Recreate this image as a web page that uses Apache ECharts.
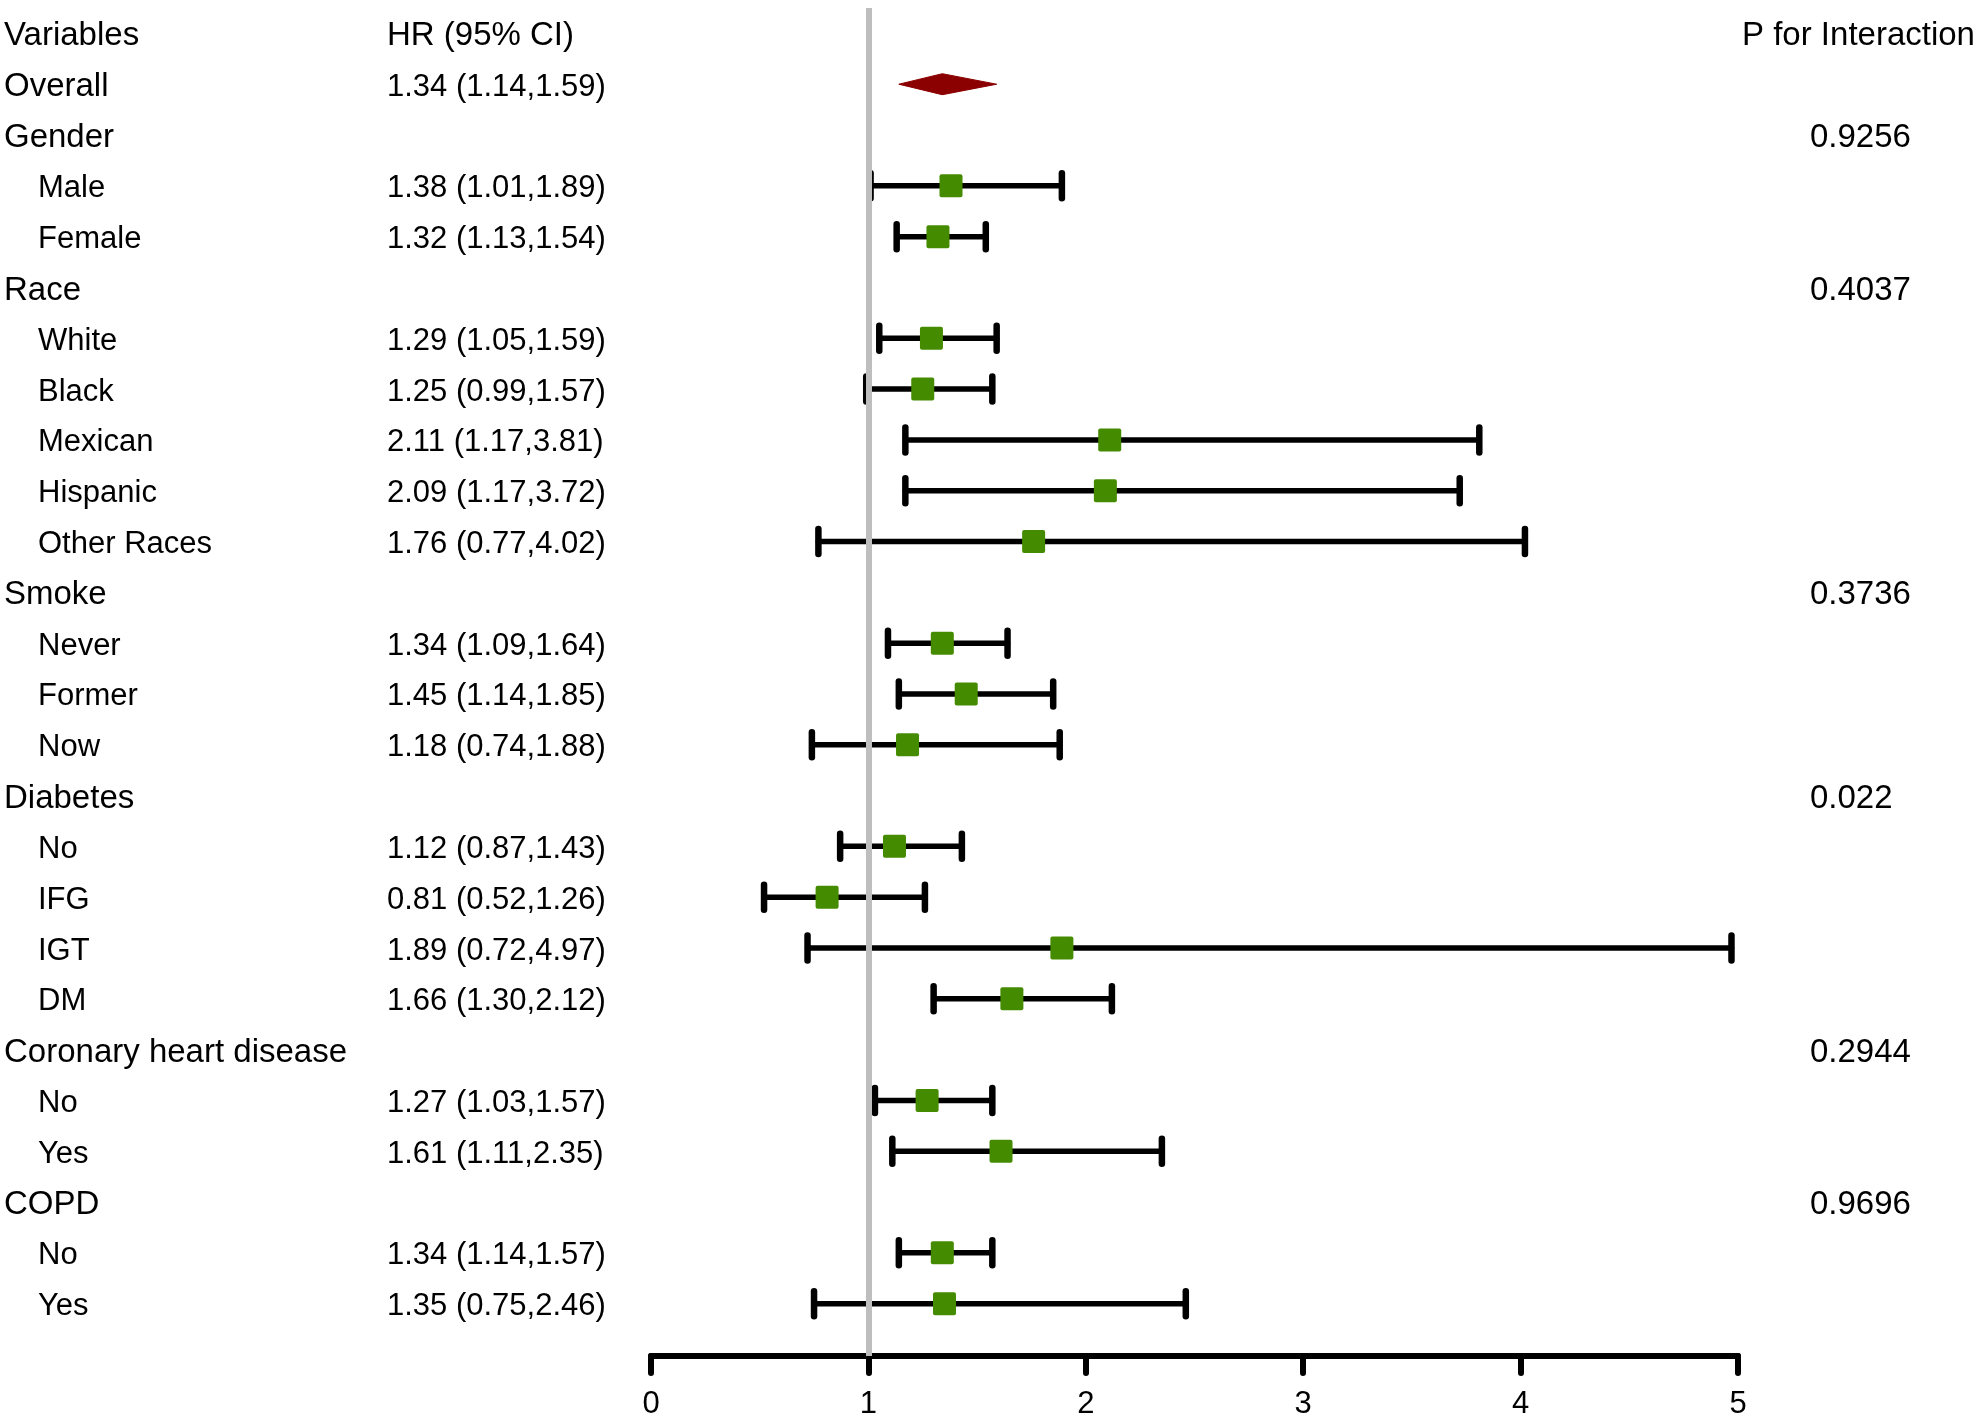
<!DOCTYPE html>
<html>
<head>
<meta charset="utf-8">
<title>Subgroup forest plot</title>
<script src="https://cdn.jsdelivr.net/npm/echarts@6.0.0/dist/echarts.min.js"></script>
<style>
  html, body { margin: 0; padding: 0; background: #fff; overflow: hidden; }
  #chart { width: 1977px; height: 1420px; }
</style>
</head>
<body>
<div id="chart"></div>
<script>
// 表头
const headers = ['Variables', 'HR (95% CI)', 'P for Interaction'];

// 每行的变量名，subgroup 行缩进
const labels = ['Overall', 'Gender', 'Male', 'Female', 'Race', 'White', 'Black', 'Mexican',
  'Hispanic', 'Other Races', 'Smoke', 'Never', 'Former', 'Now', 'Diabetes', 'No', 'IFG',
  'IGT', 'DM', 'Coronary heart disease', 'No', 'Yes', 'COPD', 'No', 'Yes'];
const indented = [false, false, true, true, false, true, true, true, true, true, false, true,
  true, true, false, true, true, true, true, false, true, true, false, true, true];

// HR 及 95% CI
const hr = [1.34, null, 1.38, 1.32, null, 1.29, 1.25, 2.11, 2.09, 1.76, null, 1.34, 1.45, 1.18,
  null, 1.12, 0.81, 1.89, 1.66, null, 1.27, 1.61, null, 1.34, 1.35];
const lower = [1.14, null, 1.01, 1.13, null, 1.05, 0.99, 1.17, 1.17, 0.77, null, 1.09, 1.14, 0.74,
  null, 0.87, 0.52, 0.72, 1.30, null, 1.03, 1.11, null, 1.14, 0.75];
const upper = [1.59, null, 1.89, 1.54, null, 1.59, 1.57, 3.81, 3.72, 4.02, null, 1.64, 1.85, 1.88,
  null, 1.43, 1.26, 4.97, 2.12, null, 1.57, 2.35, null, 1.57, 2.46];

// 交互作用 P 值
const pInteraction = ['', '0.9256', '', '', '0.4037', '', '', '', '', '', '0.3736', '', '', '',
  '0.022', '', '', '', '', '0.2944', '', '', '0.9696', '', ''];

// x 轴刻度
const xTicks = [0, 1, 2, 3, 4, 5];

const FONT = 'Liberation Sans, Arial, sans-serif';
const FS_LABEL = 33;   // 分组名 / 表头 / P 值
const FS_SUB = 31;     // 缩进的亚组名
const FS_HR = 31;      // HR 列
const TEXT_DY = 3;
const COL_VAR = 4, COL_SUB = 38, COL_HR = 387, COL_P = 1810, COL_PHEAD = 1742;

const fmt = v => v.toFixed(2);

// 行号：表头为 0，数据从 1 开始
const textRows = [{ row: 0, header: true }].concat(labels.map((l, i) => ({ row: i + 1, idx: i })));
const barRows = [];
hr.forEach((v, i) => {
  if (v != null && i > 0) barRows.push([v, i + 1, lower[i], upper[i]]);
});
const overall = [[hr[0], 1, lower[0], upper[0]]];

function textEl(str, x, y, fs) {
  return {
    type: 'text',
    style: { text: str, x: x, y: y + TEXT_DY, fill: '#000', font: fs + 'px ' + FONT, verticalAlign: 'middle', align: 'left' }
  };
}

const chart = echarts.init(document.getElementById('chart'));
chart.setOption({
  animation: false,
  backgroundColor: '#fff',
  grid: { left: 651, right: 239, top: 8, bottom: 59 },
  xAxis: {
    type: 'value',
    position: 'bottom',
    min: xTicks[0],
    max: xTicks[xTicks.length - 1],
    interval: 1,
    splitLine: { show: false },
    axisLine: { show: true, onZero: false, lineStyle: { color: '#000', width: 6, cap: 'round' } },
    axisTick: { show: true, length: 17, lineStyle: { color: '#000', width: 6, cap: 'round' } },
    axisLabel: { color: '#000', fontSize: 31, fontFamily: FONT, margin: 33 }
  },
  yAxis: {
    type: 'value',
    inverse: true,
    min: -0.5,
    max: 26.03,
    show: false
  },
  series: [
    {
      // 参考线 HR = 1
      type: 'line',
      data: [],
      markLine: {
        silent: true,
        symbol: 'none',
        label: { show: false },
        lineStyle: { color: '#BEBEBE', width: 6, type: 'solid' },
        data: [{ xAxis: 1 }]
      },
      z: 1
    },
    {
      // 文本列
      type: 'custom',
      data: textRows.map(r => [0, r.row]),
      silent: true,
      z: 5,
      renderItem: (params, api) => {
        const r = textRows[params.dataIndex];
        const y = api.coord([0, r.row])[1];
        if (r.header) {
          return { type: 'group', children: [
            textEl(headers[0], COL_VAR, y, FS_LABEL),
            textEl(headers[1], COL_HR, y, FS_LABEL),
            textEl(headers[2], COL_PHEAD, y, FS_LABEL)
          ] };
        }
        const i = r.idx;
        const kids = [indented[i] ? textEl(labels[i], COL_SUB, y, FS_SUB) : textEl(labels[i], COL_VAR, y, FS_LABEL)];
        if (hr[i] != null) kids.push(textEl(fmt(hr[i]) + ' (' + fmt(lower[i]) + ',' + fmt(upper[i]) + ')', COL_HR, y, FS_HR));
        if (pInteraction[i]) kids.push(textEl(pInteraction[i], COL_P, y, FS_LABEL));
        return { type: 'group', children: kids };
      }
    },
    {
      // 误差线 + 方块
      type: 'custom',
      data: barRows,
      encode: { x: [0, 2, 3], y: 1 },
      z: 3,
      renderItem: (params, api) => {
        const y = api.value(1);
        const pLo = api.coord([api.value(2), y]);
        const pHi = api.coord([api.value(3), y]);
        const pHr = api.coord([api.value(0), y]);
        const capH = 12.5, sq = 23;
        const ls = { stroke: '#000', lineWidth: 5.5, lineCap: 'round' };
        const cs = { stroke: '#000', lineWidth: 6.5, lineCap: 'round' };
        return { type: 'group', children: [
          { type: 'line', shape: { x1: pLo[0], y1: pLo[1], x2: pHi[0], y2: pHi[1] }, style: ls },
          { type: 'line', shape: { x1: pLo[0], y1: pLo[1] - capH, x2: pLo[0], y2: pLo[1] + capH }, style: cs },
          { type: 'line', shape: { x1: pHi[0], y1: pHi[1] - capH, x2: pHi[0], y2: pHi[1] + capH }, style: cs },
          { type: 'rect', shape: { x: pHr[0] - sq / 2, y: pHr[1] - sq / 2, width: sq, height: sq, r: 2 },
            style: { fill: '#458B00' } }
        ] };
      }
    },
    {
      // Overall 菱形
      type: 'custom',
      data: overall,
      encode: { x: [0, 2, 3], y: 1 },
      z: 3,
      renderItem: (params, api) => {
        const y = api.value(1);
        const pLo = api.coord([api.value(2), y]);
        const pHi = api.coord([api.value(3), y]);
        const pHr = api.coord([api.value(0), y]);
        const h = 10.5;
        return {
          type: 'polygon',
          shape: { points: [[pLo[0], pLo[1]], [pHr[0], pHr[1] - h], [pHi[0], pHi[1]], [pHr[0], pHr[1] + h]] },
          style: { fill: '#8B0000', stroke: '#8B0000', lineWidth: 1, lineJoin: 'round' }
        };
      }
    }
  ]
});
</script>
</body>
</html>
